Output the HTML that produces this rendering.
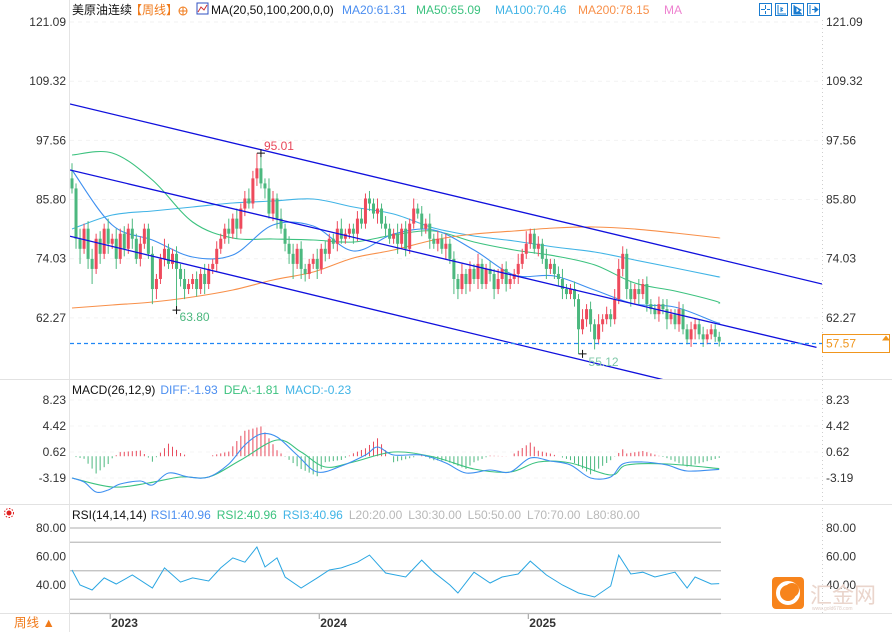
<!DOCTYPE html>
<html><head><meta charset="utf-8">
<style>
html,body{margin:0;padding:0;background:#fff;}
body{width:892px;height:632px;overflow:hidden;position:relative;font-family:"Liberation Sans","Noto Sans CJK SC",sans-serif;}
svg{position:absolute;left:0;top:0;}
text{font-family:"Liberation Sans","Noto Sans CJK SC",sans-serif;}
</style></head>
<body>
<svg id="chart" width="892" height="632" viewBox="0 0 892 632">
  <g id="grid"></g>
  <g id="axes"></g>
  <g id="main"></g>
  <g id="macd"></g>
  <g id="rsi"></g>
  <g id="hdr">
    <text x="72" y="14" font-size="12"><tspan fill="#111">美原油连续</tspan><tspan fill="#f07a1a" dx="-2">【周线】</tspan></text>
    <g><circle cx="183" cy="11" r="4" fill="none" stroke="#f07a1a" stroke-width="1"/><line x1="179" y1="11" x2="187" y2="11" stroke="#f07a1a"/><line x1="183" y1="7" x2="183" y2="15" stroke="#f07a1a"/></g>
    <g><rect x="197" y="3" width="11" height="11" fill="#fff" stroke="#3050c0"/><polyline points="198,12 201,7 204,10 207,5" fill="none" stroke="#d03030"/></g>
    <text x="211" y="14" font-size="12"><tspan fill="#111">MA(20,50,100,200,0,0)</tspan><tspan x="342" fill="#4b8ef0">MA20:61.31</tspan><tspan x="416" fill="#3cc27f">MA50:65.09</tspan><tspan x="495" fill="#41b4e6">MA100:70.46</tspan><tspan x="578" fill="#f8904a">MA200:78.15</tspan><tspan x="664" fill="#ee82d0">MA</tspan></text>
    <g><rect x="759.5" y="3.5" width="12" height="12" fill="none" stroke="#1a7cd0"/><path d="M765.5 5v4M765.5 11v3M761 9.5h4M767 9.5h3" stroke="#1a7cd0"/></g>
    <g><rect x="775.5" y="3.5" width="12" height="12" fill="none" stroke="#1a7cd0"/><path d="M778 5v9h8M781 7v5M783 8l-2 1.5 2 1.5" stroke="#1a7cd0" fill="none"/></g>
    <g><rect x="791.5" y="3.5" width="12" height="12" fill="none" stroke="#1a7cd0"/><path d="M794 5v9h8M796 7l5 3-5 3z" stroke="#1a7cd0" fill="#1a7cd0"/></g>
    <g><rect x="807.5" y="3.5" width="12" height="12" fill="none" stroke="#1a7cd0"/><path d="M810 5v9M812 9.5h4M815 7l3 2.5-3 2.5z" stroke="#1a7cd0" fill="#1a7cd0"/></g>
  </g>
  <g>
    <rect x="772" y="577" width="32" height="32" rx="4" fill="#f7841c"/>
    <circle cx="788" cy="593" r="10" fill="none" stroke="#fff" stroke-width="4"/>
    <circle cx="792" cy="590" r="7" fill="#f7841c"/>
    <text x="810" y="603" font-size="22" fill="#ead5cc">汇金网</text>
    <text x="812" y="610" font-size="5" fill="#e0cfc8">www.gold678.com</text>
  </g>
</svg>
<script>
// ---------------- data ----------------
const closes = [88,78,76,80,74, 72,78,75,80,77, 78,74,79,76,80, 78,74,77,80,75,
 68,70,74,76,73, 75,72,70,68,69, 70,68,71,69,72, 73,76,78,80,79,
 82,80,84,86,85, 90,92,89,88,83, 86,82,80,77,75, 73,76,72,71,73,
 74,72,76,75,78, 77,80,78,79,80, 79,82,81,86,85, 83,84,81,80,78,
 79,77,80,76,81, 84,83,80,81,78, 77,78,76,77,74, 70,68,71,69,72,
 70,73,69,72,71, 68,70,72,69,70, 71,73,75,77,79, 76,77,74,72,73,
 71,70,68,67,68, 66,60,62,64,61, 58,61,62,63,62, 66,72,75,68,66,
 68,67,69,65,64, 63,65,64,62,63, 61,64,60,58,60, 61,59,58,59,60, 58.5,57.57];
const firstOpen = 90;
const wickUp = [3,1,2,1,1.5, 2,1,1.5,1,2, 1,2,1,1.5,1, 2,1,1.5,1,1,
 1.5,1,1,2,1, 1,1.5,1,2,1, 1,1.5,1,2,1, 1,1.5,1,1,2,
 1,2,1,1.5,2, 1.5,3,2.5,1,2, 1.5,1,2,1,1.5, 2,1,1.5,1,1,
 1,2,1,1.5,1, 1,1.5,2,1,1, 1,1.5,2,1,1.5, 1,2,1,1.5,1,
 1,2,1,1.5,1, 2,1,1.5,1,2, 1,1.5,1,2,1, 1.5,1,2,1,1.5,
 1,2,1,1,1.5, 1,2,1,1.5,1, 1,2,1,2.5,1, 1,1.5,1,2,1,
 1,1.5,2,1,1, 1.5,1,2,1,1.5, 1,2,1,1.5,1, 2,2,1.5,1,1.5,
 1,2,1,1.5,1, 1,1.5,1,2,1, 1,1.5,1,1,1.5, 1,1,1.5,1,1, 1,1];
const wickDn = [1,2,3,1,2, 3,1,2,1,2, 1,2,1,1.5,1, 2,1,1.5,1,1,
 3,2,1,1.5,1, 1,8.2,1.5,2,1, 1,1.5,1,2,1, 1,1.5,1,1,2,
 1,2,1,1.5,1, 1,1.5,1,2,1, 1.5,2,1,1.5,2, 3,1,2,1.5,1,
 1,2,1,1.5,1, 1,1.5,1,1,1, 2,1.5,1,1,1.5, 1,2,1,1.5,1,
 1,2,1,1.5,1, 1,1,1.5,1,2, 1,1.5,1,2,1, 3,2,1,2,1.5,
 1,2,1,1,1.5, 2,1,1,1.5,1, 1,2,1,1,1, 1,1.5,1,2,1,
 1,1.5,2,1,1, 1.5,4.88,1,1.5,1.5, 2,1,1.5,1,1.5, 1,1,1.5,2,1.5,
 1,2,1,1.5,1, 1,1.5,1,2,1, 1,1.5,1,1,1.5, 2,1,1.5,1,1, 1,1];

const maIdx   = [0,10,20,30,40,50,60,70,80,90,100,110,120,130,140,150,160,161];
const ma20    = [91.67,80.73,77.75,74.37,74.77,80.73,80.53,75.56,78.94,79.74,75.76,70.79,70.59,67.80,65.02,64.42,61.44,61.31];
const ma50    = [94.65,95.05,89.68,81.33,78.15,77.95,77.75,77.35,78.74,79.54,77.35,75.76,74.6,72.8,69.20,67.61,65.62,65.09];
const ma100   = [79.94,82.72,83.52,84.31,85.11,85.50,85.90,84.31,82.92,80.14,78.55,77.55,76.36,75.37,73.78,72.19,70.55,70.46];
const ma200   = [64.23,64.83,65.42,66.42,67.81,69.80,71.39,74.17,75.76,77.75,78.94,79.54,80.14,80.33,79.94,79.14,78.25,78.15];

const chanUpper = [[-0.5,104.79],[186.6,69.0]];
const chanMid   = [[-0.5,91.67],[185.2,56.4]];
const chanLower = [[-0.5,78.5],[147.5,49.9]];
const lastPrice = 57.57;

const diffIdx = [0,3,6,9,12,17,20,24,29,34,39,43,47,51,56,61,67,73,76,80,87,93,98,104,109,114,119,124,129,134,137,142,148,153,161];
const diffVals = [-3.19,-3.77,-5.24,-4.94,-4.07,-3.63,-4.21,-2.45,-3.04,-3.04,-1.14,1.64,3.26,2.82,0.18,-2.31,-1.43,0.18,1.35,0.18,0.18,-0.99,-2.45,-2.02,-2.31,-0.26,-0.70,-1.28,-3.19,-3.04,-1.14,-0.84,-1.28,-2.16,-1.93];
const deaIdx = [0,10,19,27,34,42,51,57,63,70,80,90,100,109,116,124,134,138,148,161];
const deaVals = [-3.19,-4.50,-3.92,-3.04,-3.04,-0.55,2.38,0.62,-1.58,-0.84,0.62,-0.11,-1.87,-2.31,-0.84,-0.99,-2.75,-1.28,-1.14,-1.81];

const rsiIdx = [0,2,5,8,11,15,20,23,27,30,34,37,40,43,46,48,51,53,57,61,64,67,71,74,78,83,87,90,94,96,100,104,107,111,114,118,122,126,130,134,136,139,142,145,150,153,155,159,161];
const rsiVals = [50.5,40,36.5,45,40.7,47,37.9,52,42,45,42.8,52,59,56,66.7,52.6,59,45.6,37.9,45,50.5,52,56,61,48.4,45.6,57.5,49,40,34.4,49,41.4,45.6,47.7,56.8,47,40,34.4,31.6,39.3,61,47.7,49,45.6,49,37.9,45.6,40.7,40.96];
const rsiLevels = [80,70,50,30,20];

const priceTicks = [121.09,109.32,97.56,85.80,74.03,62.27];
const macdTicks = [8.23,4.42,0.62,-3.19];
const rsiTicks = [80,60,40];
const yearLabels = ['2023','2024','2025'];
const yearIdx = [9.5,61.5,113.5];

// ---------------- scales ----------------
const X0=72, DX=4.02;
const xOf = i => X0 + i*DX;
const yP = p => 22 + (121.09-p)*5.03;
const yM = v => 452 - (v-0.62)*6.83;
const yR = v => 528 + (80-v)*1.425;
const NS='http://www.w3.org/2000/svg';
function mk(tag, attrs, parent){const e=document.createElementNS(NS,tag);for(const k in attrs)e.setAttribute(k,attrs[k]);parent.appendChild(e);return e;}
function interp(idx, vals, i){
  if(i<=idx[0])return vals[0];
  for(let k=1;k<idx.length;k++){if(i<=idx[k]){const t=(i-idx[k-1])/(idx[k]-idx[k-1]);return vals[k-1]+t*(vals[k]-vals[k-1]);}}
  return vals[vals.length-1];
}
function smoothPath(pts){
  let d='M'+pts[0][0].toFixed(1)+' '+pts[0][1].toFixed(1);
  for(let k=0;k<pts.length-1;k++){
    const p0=pts[Math.max(0,k-1)],p1=pts[k],p2=pts[k+1],p3=pts[Math.min(pts.length-1,k+2)];
    const c1=[p1[0]+(p2[0]-p0[0])/6,p1[1]+(p2[1]-p0[1])/6];
    const c2=[p2[0]-(p3[0]-p1[0])/6,p2[1]-(p3[1]-p1[1])/6];
    d+=`C${c1[0].toFixed(1)} ${c1[1].toFixed(1)} ${c2[0].toFixed(1)} ${c2[1].toFixed(1)} ${p2[0].toFixed(1)} ${p2[1].toFixed(1)}`;
  }
  return d;
}
const grid=document.getElementById('grid'), axes=document.getElementById('axes');
const main=document.getElementById('main'), macdG=document.getElementById('macd'), rsiG=document.getElementById('rsi');

let e;
e=mk('line',{x1:69.5,y1:0,x2:69.5,y2:632,stroke:'#e4e4e4'},axes);


e=mk('line',{x1:822.5,y1:20,x2:822.5,y2:613,stroke:'#cfcfcf','stroke-dasharray':'1 3'},axes);


[379.5,504.5,613.5].forEach(y=>{
  e=mk('line',{x1:0,y1:y,x2:892,y2:y,stroke:'#e2e2e2'},axes);
  
  
});

priceTicks.forEach(p=>{
  const y=yP(p);
  e=mk('line',{x1:70,y1:y,x2:822,y2:y,stroke:'#f2f2f2','stroke-dasharray':'4 4'},grid);
  
  
  e=mk('text',{x:66,y:y+4,'font-size':12,'text-anchor':'end',fill:'#333'},axes);e.textContent=p.toFixed(2);
  
  
  e=mk('text',{x:826,y:y+4,'font-size':12,fill:'#333'},axes);e.textContent=p.toFixed(2);
  
  
});
macdTicks.forEach(v=>{
  const y=yM(v);
  e=mk('line',{x1:70,y1:y,x2:822,y2:y,stroke:'#f4f4f4','stroke-dasharray':'4 4'},grid);
  
  
  e=mk('text',{x:66,y:y+4,'font-size':12,'text-anchor':'end',fill:'#333'},axes);e.textContent=v.toFixed(2);
  
  
  e=mk('text',{x:826,y:y+4,'font-size':12,fill:'#333'},axes);e.textContent=v.toFixed(2);
  
  
});
rsiTicks.forEach(v=>{
  const y=yR(v);
  e=mk('text',{x:66,y:y+4,'font-size':12,'text-anchor':'end',fill:'#333'},axes);e.textContent=v.toFixed(2);
  
  
  e=mk('text',{x:826,y:y+4,'font-size':12,fill:'#333'},axes);e.textContent=v.toFixed(2);
  
  
});
rsiLevels.forEach(v=>{
  const y=yR(v);
  e=mk('line',{x1:70,y1:y,x2:721,y2:y,stroke:'#bdbdbd','stroke-width':1.2},rsiG);
  
  
});
yearLabels.forEach((t,k)=>{
  const x=xOf(yearIdx[k]);
  e=mk('line',{x1:x,y1:613,x2:x,y2:619,stroke:'#999'},axes);
  
  
  e=mk('text',{x:x+1,y:627,'font-size':12,'font-weight':'bold',fill:'#333'},axes);e.textContent=t;
  
  
});
e=mk('text',{x:14,y:627,'font-size':12.5,fill:'#f07a1a'},axes);e.textContent='周线 ▲';



// ---------------- price panel ----------------
const clipDefs=mk('defs',{},main);
const cp=mk('clipPath',{id:'cpMain'},clipDefs);mk('rect',{x:70,y:19,width:752,height:360},cp);
const gm=mk('g',{'clip-path':'url(#cpMain)'},main);

[[ma100,'#41b4e6','ma100-line'],[ma50,'#3cc27f','ma50-line'],[ma200,'#f8904a','ma200-line'],[ma20,'#3d8ff0','ma20-line']].forEach(([arr,c,n])=>{
  const pts=maIdx.map((i,k)=>[xOf(i),yP(arr[k])]);
  e=mk('path',{d:smoothPath(pts),fill:'none',stroke:c,'stroke-width':1.1},gm);
  
  
});

for(let i=0;i<closes.length;i++){
  const o=i===0?firstOpen:closes[i-1], c=closes[i];
  const hi=Math.max(o,c)+wickUp[i], lo=Math.min(o,c)-wickDn[i];
  const up=c>=o, col=up?'#ee4a5c':'#4cb87f';
  const x=xOf(i);
  const g=mk('g',{},gm);
  
  
  mk('line',{x1:x,y1:yP(hi),x2:x,y2:yP(lo),stroke:col,'stroke-width':1},g);
  const yt=yP(Math.max(o,c)), yb=yP(Math.min(o,c));
  mk('rect',{x:x-1.5,y:yt,width:3,height:Math.max(1,yb-yt),fill:col},g);
}

[[chanUpper,'channel-upper-line'],[chanMid,'channel-middle-line'],[chanLower,'channel-lower-line']].forEach(([a,n])=>{
  e=mk('line',{x1:xOf(a[0][0]),y1:yP(a[0][1]),x2:xOf(a[1][0]),y2:yP(a[1][1]),stroke:'#1010dd','stroke-width':1.3},gm);
  
  
});

const yl=yP(lastPrice)+2;
e=mk('line',{x1:70,y1:yl,x2:822,y2:yl,stroke:'#1f86f5','stroke-width':1.2,'stroke-dasharray':'4 3'},main);


e=mk('rect',{x:822.5,y:yl-9,width:67,height:18,fill:'#fff',stroke:'#f0961e'},main);


e=mk('text',{x:826,y:yl+4,'font-size':12,fill:'#f0961e'},main);e.textContent=lastPrice.toFixed(2);


e=mk('path',{d:`M882 ${yl-3}l4 -5 4 5z`,fill:'#f0961e'},main);



function marker(i,p,label,col,dx,dy,name){
  const x=xOf(i),y=yP(p);
  const g=mk('g',{},main);
  
  
  mk('path',{d:`M${x-4} ${y}h8M${x} ${y-4}v8`,stroke:'#111','stroke-width':1},g);
  const t=mk('text',{x:x+dx,y:y+dy,'font-size':12,fill:col},g);t.textContent=label;
}
marker(47,95.01,'95.01','#e8475a',3,-3,'high-marker');
marker(26,63.80,'63.80','#4cb87f',3,11,'low-marker-2023');
marker(127,55.12,'55.12','#7fc8a8',6,12,'low-marker-2025');

// ---------------- MACD ----------------
e=mk('text',{x:72,y:394,'font-size':12},macdG);
e.innerHTML='<tspan fill="#111">MACD(26,12,9)</tspan><tspan dx="5" fill="#4b8ef0">DIFF:-1.93</tspan><tspan dx="6" fill="#3cc27f">DEA:-1.81</tspan><tspan dx="6" fill="#41b4e6">MACD:-0.23</tspan>';


for(let i=0;i<closes.length;i++){
  const d=interp(diffIdx,diffVals,i), a=interp(deaIdx,deaVals,i);
  const h=2*(d-a);
  e=mk('line',{x1:xOf(i),y1:yM(0),x2:xOf(i),y2:yM(h),stroke:h>=0?'#e84a5c':'#4cb87f','stroke-width':1},macdG);
  
  
}
e=mk('path',{d:smoothPath(deaIdx.map((i,k)=>[xOf(i),yM(deaVals[k])])),fill:'none',stroke:'#3cc27f','stroke-width':1.1},macdG);


e=mk('path',{d:smoothPath(diffIdx.map((i,k)=>[xOf(i),yM(diffVals[k])])),fill:'none',stroke:'#3d8ff0','stroke-width':1.1},macdG);



// ---------------- RSI ----------------
e=mk('g',{},rsiG);


mk('circle',{cx:9,cy:513,r:2.5,fill:'#e02020'},e);
mk('circle',{cx:9,cy:513,r:4.5,fill:'none',stroke:'#e02020','stroke-dasharray':'1.5 1.5'},e);
e=mk('text',{x:72,y:519,'font-size':12},rsiG);
e.innerHTML='<tspan fill="#111">RSI(14,14,14)</tspan><tspan dx="4" fill="#4b8ef0">RSI1:40.96</tspan><tspan dx="6" fill="#3cc27f">RSI2:40.96</tspan><tspan dx="6" fill="#41b4e6">RSI3:40.96</tspan><tspan dx="6" fill="#b8b8b8">L20:20.00</tspan><tspan dx="6" fill="#b8b8b8">L30:30.00</tspan><tspan dx="6" fill="#b8b8b8">L50:50.00</tspan><tspan dx="6" fill="#b8b8b8">L70:70.00</tspan><tspan dx="6" fill="#b8b8b8">L80:80.00</tspan>';


e=mk('polyline',{points:rsiIdx.map((i,k)=>xOf(i).toFixed(1)+','+yR(rsiVals[k]).toFixed(1)).join(' '),fill:'none',stroke:'#2aa6e2','stroke-width':1},rsiG);


</script>
</body></html>
